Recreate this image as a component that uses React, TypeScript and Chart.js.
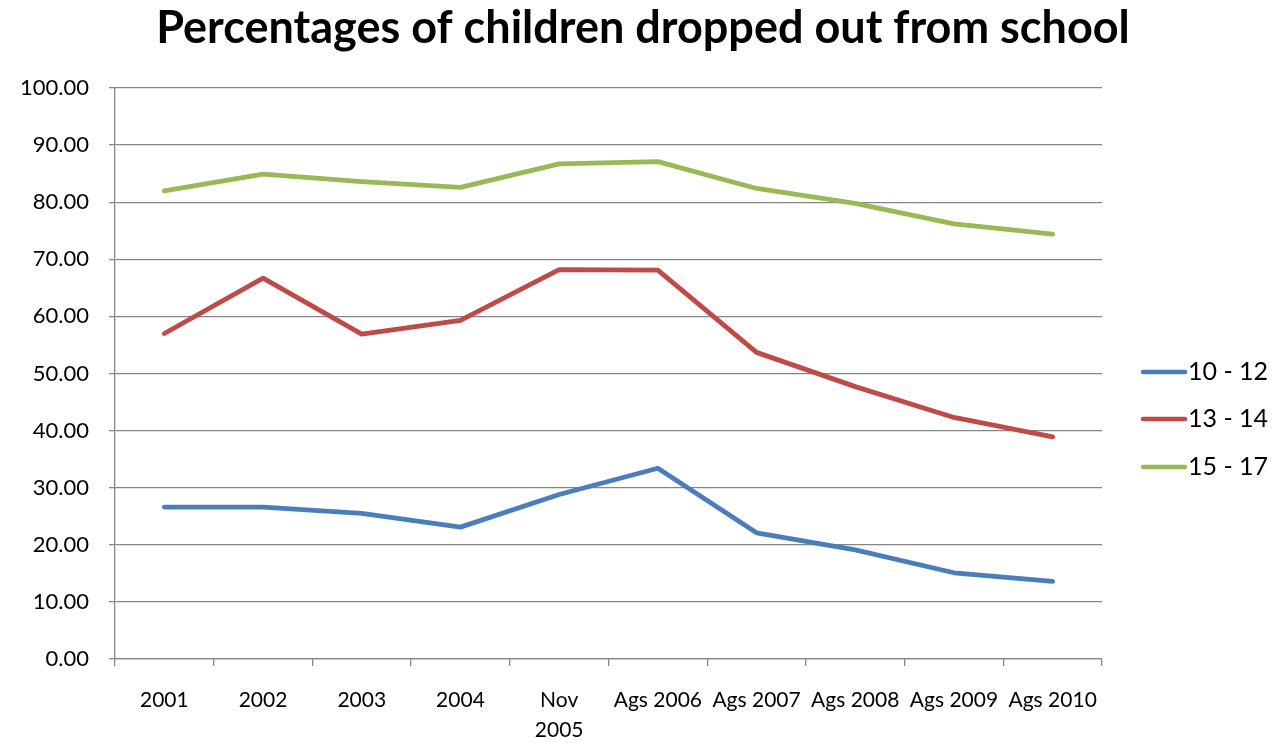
import React, { useEffect, useRef } from "react";
import { Chart, registerables } from "chart.js";

Chart.register(...registerables);

const TITLE = "Percentages of children dropped out from school";
const CATEGORIES: (string | string[])[] = [
  "2001", "2002", "2003", "2004", ["Nov", "2005"],
  "Ags 2006", "Ags 2007", "Ags 2008", "Ags 2009", "Ags 2010",
];
const SERIES_NAMES = ["10 - 12", "13 - 14", "15 - 17"];
const AGE_10_12 = [26.6, 26.6, 25.5, 23.1, 28.8, 33.4, 22.1, 19.1, 15.1, 13.6];
const AGE_13_14 = [57.0, 66.7, 56.9, 59.3, 68.2, 68.1, 53.7, 47.7, 42.3, 38.9];
const AGE_15_17 = [82.0, 84.9, 83.6, 82.6, 86.7, 87.1, 82.4, 79.8, 76.2, 74.4];
const COLORS = ["#4A7EBB", "#BE4B48", "#98B954"];

const FONT = "Lato, 'Open Sans', sans-serif";

const titlePlugin = {
  id: "centerTitle",
  afterDraw(chart: any) {
    const ctx = chart.ctx;
    ctx.save();
    ctx.fillStyle = "#000";
    ctx.font = `bold 45px ${FONT}`;
    ctx.textAlign = "center";
    ctx.textBaseline = "alphabetic";
    ctx.fillText(TITLE, 643, 43);
    ctx.restore();
  },
};

const legendPlugin = {
  id: "rightLegend",
  afterDraw(chart: any) {
    const ctx = chart.ctx;
    const ys = [372, 419, 467];
    ctx.save();
    chart.data.datasets.forEach((ds: any, i: number) => {
      const y = ys[i];
      ctx.strokeStyle = ds.borderColor;
      ctx.lineWidth = 4.5;
      ctx.lineCap = "round";
      ctx.beginPath();
      ctx.moveTo(1143, y);
      ctx.lineTo(1185, y);
      ctx.stroke();
      ctx.fillStyle = "#000";
      ctx.font = `25px ${FONT}`;
      ctx.textBaseline = "middle";
      ctx.textAlign = "left";
      ctx.fillText(ds.label, 1188, y);
    });
    ctx.restore();
  },
};

export default function App() {
  const ref = useRef<HTMLCanvasElement | null>(null);
  useEffect(() => {
    document.body.style.margin = "0";
    const data = [AGE_10_12, AGE_13_14, AGE_15_17];
    const chart = new Chart(ref.current as HTMLCanvasElement, {
      type: "line",
      data: {
        labels: CATEGORIES,
        datasets: SERIES_NAMES.map((name, i) => ({
          label: name,
          data: data[i],
          borderColor: COLORS[i],
          backgroundColor: COLORS[i],
          borderWidth: 4.8,
          pointRadius: 0,
          borderCapStyle: "round",
          borderJoinStyle: "round",
          tension: 0,
        })),
      },
      options: {
        animation: false,
        responsive: false,
        devicePixelRatio: 1,
        layout: { padding: { left: 0, right: 177, top: 88, bottom: 0 } },
        plugins: {
          legend: { display: false },
          tooltip: { enabled: false },
          title: { display: false },
        },
        scales: {
          x: {
            offset: true,
            grid: {
              offset: true,
              drawOnChartArea: false,
              drawTicks: true,
              tickLength: 7,
              color: "#868686",
              lineWidth: 1.3,
            },
            border: { color: "#868686", width: 1.3 },
            ticks: {
              color: "#000",
              font: { family: FONT, size: 21, lineHeight: 1.45 },
              padding: 19,
              maxRotation: 0,
              minRotation: 0,
              autoSkip: false,
            },
            afterFit: (s: any) => { s.height = 86; },
          },
          y: {
            min: 0,
            max: 100,
            ticks: {
              stepSize: 10,
              color: "#000",
              font: { family: FONT, size: 22 },
              padding: 20,
              callback: (v: any) => Number(v).toFixed(2),
            },
            grid: { color: "#868686", lineWidth: 1.3, tickLength: 6 },
            border: { color: "#868686", width: 1.3 },
            afterFit: (s: any) => { s.width = 115; },
          },
        },
      },
      plugins: [legendPlugin, titlePlugin],
    } as any);
    return () => chart.destroy();
  }, []);
  return (
    <div style={{ width: 1279, height: 745, background: "#fff" }}>
      <canvas ref={ref} width={1279} height={745} style={{ display: "block" }} />
    </div>
  );
}
